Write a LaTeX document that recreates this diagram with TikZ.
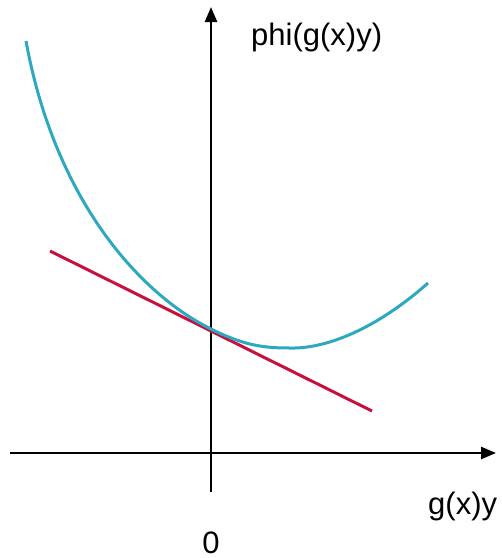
\documentclass[tikz,border=0pt]{standalone}
\usepackage{fontspec}
\setmainfont{Liberation Sans}
\usetikzlibrary{arrows.meta}
\definecolor{curveteal}{HTML}{2EA8C0}
\definecolor{tangentred}{HTML}{C8103C}
\begin{document}
\begin{tikzpicture}[x=1pt,y=-1pt,
  axisline/.style={line width=2.6pt,black,-{Triangle[length=15pt,width=12pt]}},
  lbl/.style={font=\fontsize{31}{36}\selectfont,inner sep=0pt,anchor=base west}]
\useasboundingbox (0,0) rectangle (502,558);
\coordinate (xs) at (10,453);
\coordinate (xe) at (496,453);
\coordinate (ys) at (211,492);
\coordinate (ye) at (211,7);
\draw[axisline] (xs) -- (xe);
\draw[axisline] (ys) -- (ye);
\coordinate (ta) at (50,251);
\coordinate (tb) at (372,411);
\draw[tangentred,line width=3pt] (ta) -- (tb);
\coordinate (c0) at (26,41);
\coordinate (c1) at (211,329);
\coordinate (c2) at (290,348);
\coordinate (c3) at (428,283);
\draw[curveteal,line width=3pt] (c0) .. controls (55,200) and (140,294) .. (c1)
  .. controls (245,346) and (265,348) .. (c2)
  .. controls (325,349) and (375,330) .. (c3);
\node[lbl] (ylab) at (251,45) {phi(g(x)y)};
\node[lbl] (xlab) at (428,514) {g(x)y};
\node[lbl,anchor=base] (zero) at (211,553) {0};
\end{tikzpicture}
\end{document}
